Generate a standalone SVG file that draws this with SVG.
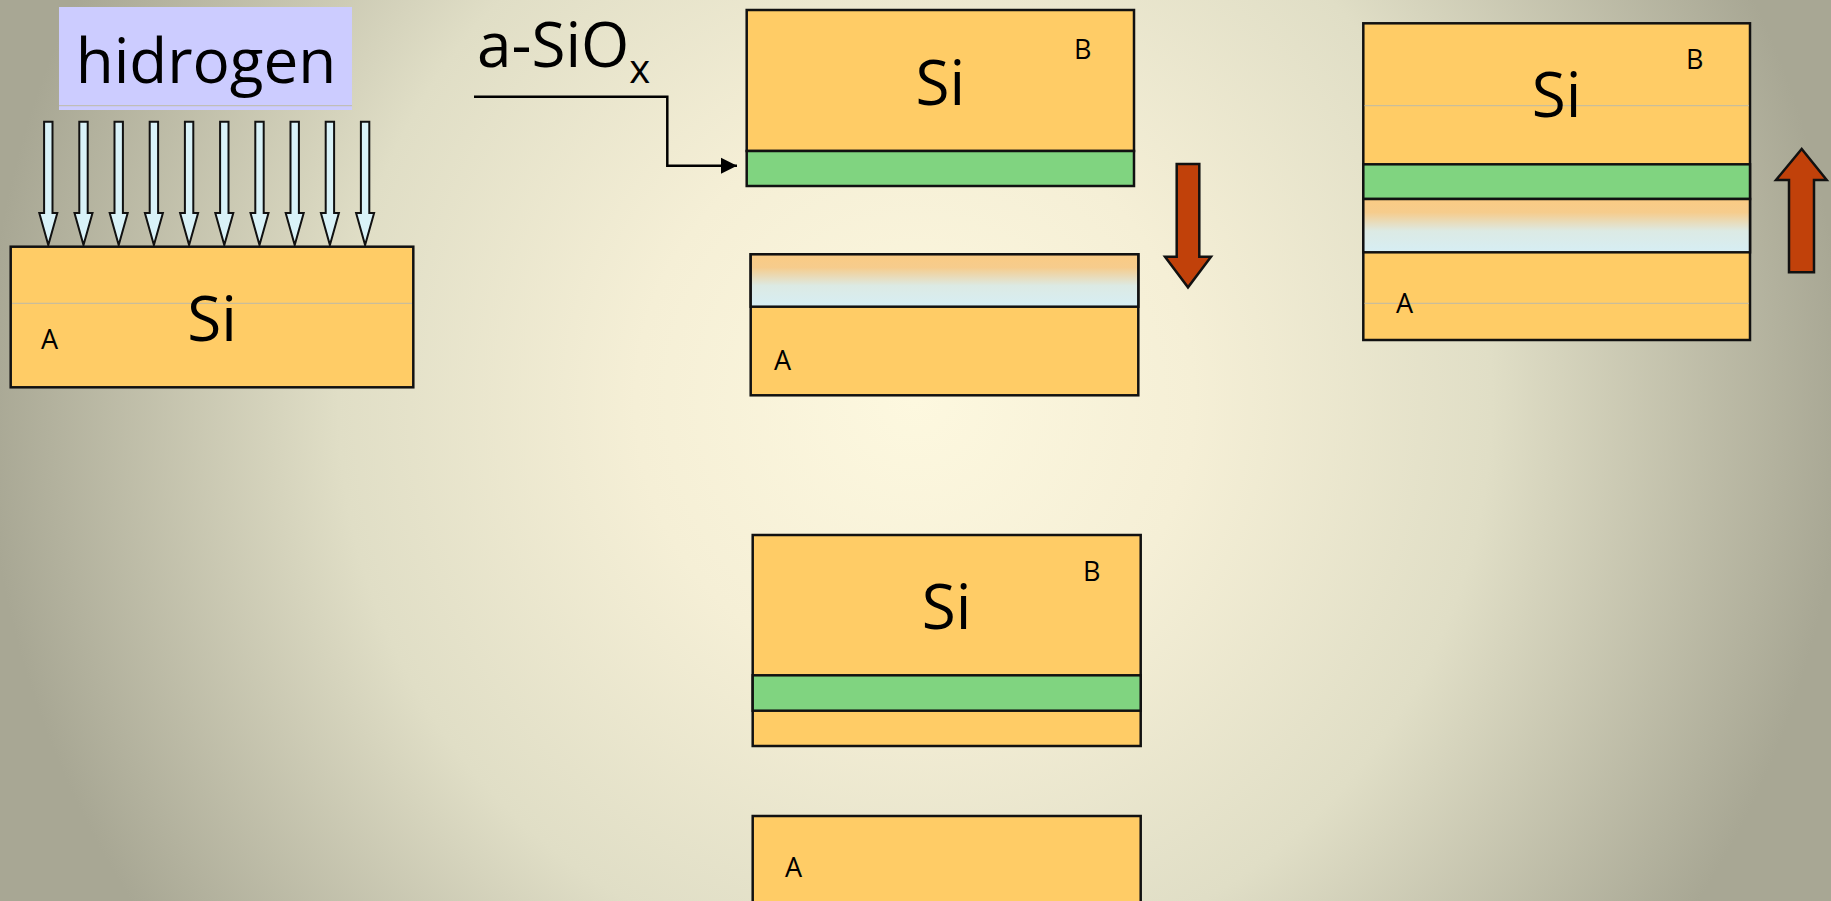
<svg xmlns="http://www.w3.org/2000/svg" width="1831" height="901" viewBox="0 0 1831 901">
  <defs>
    <radialGradient id="bg" gradientUnits="userSpaceOnUse" cx="915" cy="400" r="930">
      <stop offset="0" stop-color="#FDF8DF"/>
      <stop offset="0.3" stop-color="#F5EFD6"/>
      <stop offset="0.62" stop-color="#E0DEC6"/>
      <stop offset="1" stop-color="#A8A794"/>
    </radialGradient>
    <linearGradient id="implant" x1="0" y1="0" x2="0" y2="1">
      <stop offset="0" stop-color="#FACB84"/>
      <stop offset="0.25" stop-color="#F6CC8C"/>
      <stop offset="0.6" stop-color="#DCEAE4"/>
      <stop offset="1" stop-color="#D6EEF4"/>
    </linearGradient>
    <marker id="tip" viewBox="0 0 10 10" refX="10" refY="5" markerWidth="17" markerHeight="16" markerUnits="userSpaceOnUse" orient="auto" overflow="visible">
      <path d="M0,0 L10,5 L0,10 Z" fill="#000"/>
    </marker>
    <!-- one hydrogen arrow, drawn about x = 0 -->
    <path id="harrow" d="M-4.2,121.7 H4.2 V213 H9 L0,245 L-9,213 H-4.2 Z"/>
  </defs>
  <style>
    .si { fill: #FFCC66; stroke: #111; stroke-width: 2.5; }
    .ox { fill: #80D480; stroke: #111; stroke-width: 2.5; }
    .imp { fill: url(#implant); stroke: #111; stroke-width: 2.5; }
    .guide { stroke: #BDBAA8; stroke-width: 1; fill: none; }
    .big { font-family: "Open Sans", "Noto Sans", sans-serif; font-size: 62px; fill: #000; }
    .lbl { font-family: "Open Sans", "Noto Sans", sans-serif; font-size: 27px; fill: #000; }
    .red { fill: #C1410A; stroke: #111; stroke-width: 2.5; }
    .h { fill: #D9F2F8; stroke: #111; stroke-width: 2; }
  </style>

  <rect width="1831" height="901" fill="url(#bg)"/>

  <!-- hydrogen label -->
  <g id="hydrogen-label">
    <rect x="59" y="7" width="293" height="103" fill="#CCCCFF"/>
    <line class="guide" x1="59" y1="105.7" x2="352" y2="105.7" stroke="#A9A9C8"/>
    <text class="big" x="206" y="83" text-anchor="middle" font-size="59">hidrogen</text>
  </g>

  <!-- hydrogen implantation arrows -->
  <g id="hydrogen-arrows" class="h">
    <use href="#harrow" x="48.3"/>
    <use href="#harrow" x="83.5"/>
    <use href="#harrow" x="118.7"/>
    <use href="#harrow" x="153.9"/>
    <use href="#harrow" x="189.1"/>
    <use href="#harrow" x="224.3"/>
    <use href="#harrow" x="259.5"/>
    <use href="#harrow" x="294.7"/>
    <use href="#harrow" x="329.9"/>
    <use href="#harrow" x="365.1"/>
  </g>

  <!-- wafer A during implantation -->
  <g id="wafer-a-implant">
    <rect class="si" x="10.7" y="246.7" width="402.6" height="140.6"/>
    <line class="guide" x1="12" y1="303.3" x2="412" y2="303.3"/>
    <text class="big" x="212" y="340.7" text-anchor="middle">Si</text>
    <text class="lbl" x="41" y="349.3">A</text>
  </g>

  <!-- oxide label -->
  <g id="oxide-label">
    <text class="big" x="477" y="66.7" font-size="60">a-SiO<tspan font-size="40" dy="16.3">x</tspan></text>
  </g>

  <!-- wafer B with oxide -->
  <g id="wafer-b-oxide">
    <rect class="si" x="746.7" y="10" width="387.3" height="141"/>
    <rect class="ox" x="746.7" y="151" width="387.3" height="35"/>
    <text class="big" x="940.3" y="105" text-anchor="middle">Si</text>
    <text class="lbl" x="1074" y="59">B</text>
  </g>

  <!-- wafer A after implantation -->
  <g id="wafer-a-implanted">
    <rect class="si" x="750.7" y="254.3" width="387.6" height="141"/>
    <rect class="imp" x="750.7" y="254.3" width="387.6" height="52.4"/>
    <text class="lbl" x="774" y="370">A</text>
  </g>

  <!-- bonded stack -->
  <g id="bonded-stack">
    <rect class="si" x="1363.3" y="23.3" width="386.7" height="316.7"/>
    <line class="guide" x1="1364.5" y1="105.7" x2="1749" y2="105.7"/>
    <line class="guide" x1="1364.5" y1="303.3" x2="1749" y2="303.3"/>
    <rect class="ox" x="1363.3" y="164.3" width="386.7" height="34.7"/>
    <rect class="imp" x="1363.3" y="199" width="386.7" height="53.3"/>
    <text class="big" x="1556.7" y="117.3" text-anchor="middle">Si</text>
    <text class="lbl" x="1686" y="69.3">B</text>
    <text class="lbl" x="1396" y="313.3">A</text>
  </g>

  <!-- wafer B after splitting, with transferred layer -->
  <g id="wafer-b-split">
    <rect class="si" x="752.7" y="535" width="388" height="211"/>
    <rect class="ox" x="752.7" y="675.3" width="388" height="35.4"/>
    <text class="big" x="946.7" y="629" text-anchor="middle">Si</text>
    <text class="lbl" x="1083" y="580.7">B</text>
  </g>

  <!-- remaining wafer A -->
  <g id="wafer-a-rest">
    <rect class="si" x="752.7" y="816" width="388" height="100"/>
    <text class="lbl" x="785" y="877.3">A</text>
  </g>

  <!-- process arrows -->
  <g id="arrow-down">
    <path class="red" d="M1176.7,164 H1199.3 V256.7 H1211 L1188,287.3 L1165,256.7 H1176.7 Z"/>
  </g>
  <g id="arrow-up">
    <path class="red" d="M1789,272.3 V180 H1776 L1801.7,149 L1826.7,180 H1814 V272.3 Z"/>
  </g>

  <!-- connectors -->
  <g id="connectors">
    <polyline points="474,96.7 667.3,96.7 667.3,165.7 737,165.7" fill="none" stroke="#000" stroke-width="2.5" marker-end="url(#tip)"/>
  </g>
</svg>
